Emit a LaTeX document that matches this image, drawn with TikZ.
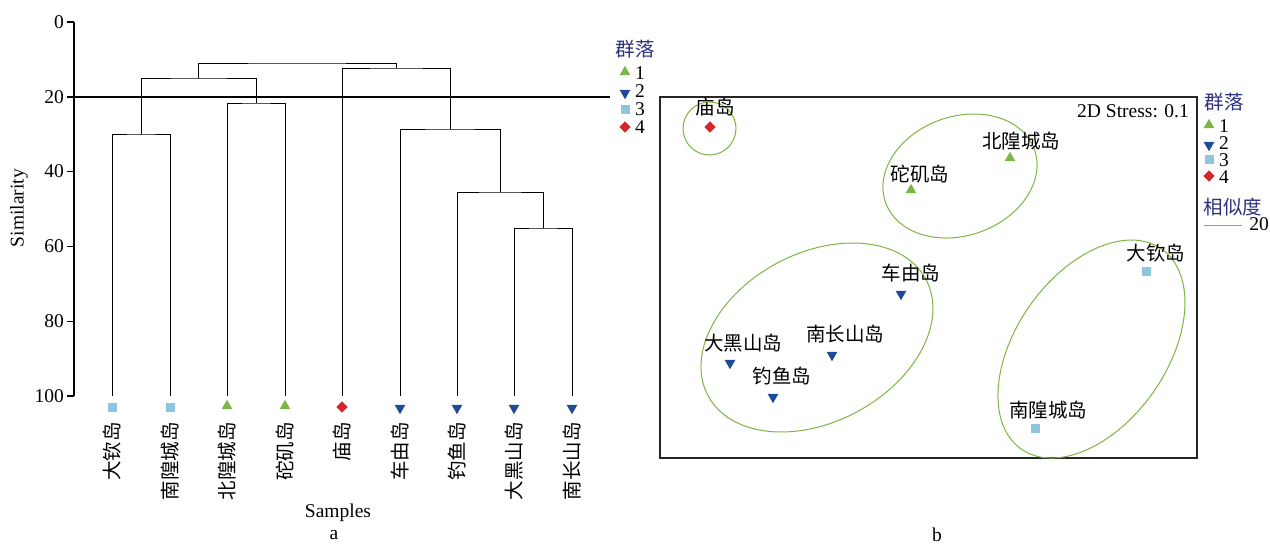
\documentclass[tikz,border=0pt]{standalone}
\usepackage{fontspec}
\setmainfont{Liberation Serif}
\newfontfamily\cjk{Noto Sans CJK SC}
\usetikzlibrary{shapes.geometric}
\definecolor{mgreen}{RGB}{122,182,72}
\definecolor{mblue}{RGB}{30,75,150}
\definecolor{mlblue}{RGB}{142,198,222}
\definecolor{mred}{RGB}{212,38,44}
\definecolor{navy}{RGB}{46,49,126}
\definecolor{egreen}{RGB}{125,181,68}
\begin{document}
\begin{tikzpicture}[x=1pt,y=1pt,
  txt/.style={inner sep=0pt,font=\fontsize{19.5}{22}\selectfont},
  cn/.style={inner sep=0pt,font=\fontsize{19.5}{22}\selectfont\cjk},
  leg/.style={cn,text=navy},
  tri/.style={regular polygon,regular polygon sides=3,minimum size=12.4pt,inner sep=0pt,fill=mgreen},
  tridown/.style={regular polygon,regular polygon sides=3,shape border rotate=180,minimum size=12.4pt,inner sep=0pt,fill=mblue},
  sq/.style={rectangle,minimum size=9pt,inner sep=0pt,fill=mlblue},
  dia/.style={diamond,minimum size=11.5pt,inner sep=0pt,fill=mred},
  dline/.style={line width=1pt,black},
  axisline/.style={line width=1.4pt,black},
  clus/.style={line width=1pt,egreen}]
\useasboundingbox (0,0) rectangle (1270,-544);

% ---------- Panel a: dendrogram ----------
\coordinate (ax0) at (74,-22);
\coordinate (ax100) at (74,-396);
\draw[axisline] (ax0) -- (ax100);
\foreach \v in {0,20,40,60,80,100}{
  \pgfmathsetmacro{\yy}{-(22+3.74*\v)}
  \coordinate (tk\v) at (74,\yy);
  \coordinate (tl\v) at (67,\yy);
  \draw[axisline] (tk\v) -- (tl\v);
  \node[txt,anchor=east] (tn\v) at (64,\yy) {\v};
}
\node[txt,rotate=90] (ylab) at (19,-208) {Similarity};

% leaves
\foreach \i/\x in {1/112,2/170,3/227,4/285,5/342,6/400,7/457,8/514,9/572}{
  \coordinate (L\i) at (\x,-396);
}
% junctions
\coordinate (J12) at (141,-134);
\coordinate (J34) at (256,-103);
\coordinate (JA) at (198.5,-78);
\coordinate (J89) at (543,-228);
\coordinate (J7) at (500,-192);
\coordinate (J6) at (450,-129);
\coordinate (J5) at (396,-68);
\coordinate (JR) at (297,-63);
\draw[dline] (L1) |- (J12) -| (L2);
\draw[dline] (L3) |- (J34) -| (L4);
\draw[dline] (J12) |- (JA) -| (J34);
\draw[dline] (L8) |- (J89) -| (L9);
\draw[dline] (L7) |- (J7) -| (J89);
\draw[dline] (L6) |- (J6) -| (J7);
\draw[dline] (L5) |- (J5) -| (J6);
\draw[dline] (JA) |- (JR) -| (J5);

% threshold line
\coordinate (th0) at (74,-97);
\coordinate (th1) at (610,-97);
\draw[line width=2pt] (th0) -- (th1);

% leaf markers
\node[sq] (m1) at (112,-407) {};
\node[sq] (m2) at (170,-407) {};
\node[tri] (m3) at (227,-406) {};
\node[tri] (m4) at (285,-406) {};
\node[dia] (m5) at (342,-407) {};
\node[tridown] (m6) at (400,-408) {};
\node[tridown] (m7) at (457,-408) {};
\node[tridown] (m8) at (514,-408) {};
\node[tridown] (m9) at (572,-408) {};

% leaf labels
\foreach \i/\x/\t in {1/112/大钦岛,2/170/南隍城岛,3/227/北隍城岛,4/285/砣矶岛,5/342/庙岛,6/400/车由岛,7/457/钓鱼岛,8/514/大黑山岛,9/572/南长山岛}{
  \node[cn,rotate=90,anchor=east] (s\i) at (\x,-422) {\t};
}
\node[txt] (xlab) at (338,-513) {Samples};
\node[txt] (pa) at (334,-535) {a};

% left legend
\node[leg] (lg1) at (635,-49) {群落};
\node[tri] (lt1) at (625,-72) {};
\node[tridown] (lt2) at (625,-93) {};
\node[sq] (lt3) at (625,-109) {};
\node[dia] (lt4) at (625,-127) {};
\node[txt] (ln1) at (640,-73) {1};
\node[txt] (ln2) at (640,-91) {2};
\node[txt] (ln3) at (640,-109) {3};
\node[txt] (ln4) at (640,-127) {4};

% ---------- Panel b: MDS ----------
\coordinate (b0) at (660,-97);
\coordinate (b1) at (1197,-458);
\draw[line width=1.2pt,black!85] (b0) rectangle (b1);
\node[txt,anchor=east] (stress) at (1189,-111) {2D Stress: 0.1};

% clusters
\coordinate (c4) at (709.5,-128.5);
\draw[clus] (c4) circle [radius=26.5];
\coordinate (c1) at (960,-176);
\draw[clus,rotate around={19.6:(c1)}] (c1) ellipse [x radius=79,y radius=59.5];
\coordinate (c2) at (817,-337.5);
\draw[clus,rotate around={28.1:(c2)}] (c2) ellipse [x radius=123.5,y radius=84.4];
\coordinate (c3) at (1091.5,-349);
\draw[clus,rotate around={54.9:(c3)}] (c3) ellipse [x radius=122.2,y radius=75.4];

% points
\node[dia] (p5) at (710,-127) {};
\node[tri] (p3) at (1010,-158) {};
\node[tri] (p4) at (911,-190) {};
\node[tridown] (p6) at (901,-294) {};
\node[tridown] (p8) at (730,-363) {};
\node[tridown] (p9) at (832,-355) {};
\node[tridown] (p7) at (773,-397) {};
\node[sq] (p1) at (1146,-271) {};
\node[sq] (p2) at (1035,-428) {};

% point labels
\node[cn] (q5) at (715,-107) {庙岛};
\node[cn] (q3) at (1021,-141) {北隍城岛};
\node[cn] (q4) at (920,-174) {砣矶岛};
\node[cn] (q6) at (911,-273) {车由岛};
\node[cn] (q8) at (743,-343) {大黑山岛};
\node[cn] (q9) at (845,-334) {南长山岛};
\node[cn] (q7) at (782,-376) {钓鱼岛};
\node[cn] (q1) at (1156,-253) {大钦岛};
\node[cn] (q2) at (1048,-410) {南隍城岛};

% right legend
\node[leg] (rg1) at (1224,-102) {群落};
\node[tri] (rt1) at (1209,-125) {};
\node[tridown] (rt2) at (1209,-145) {};
\node[sq] (rt3) at (1209,-159) {};
\node[dia] (rt4) at (1209,-176) {};
\node[txt] (rn1) at (1224,-126) {1};
\node[txt] (rn2) at (1224,-143) {2};
\node[txt] (rn3) at (1224,-160) {3};
\node[txt] (rn4) at (1224,-177) {4};
\node[leg] (rg2) at (1233,-207) {相似度};
\coordinate (rl0) at (1204,-225);
\coordinate (rl1) at (1242,-225);
\draw[clus] (rl0) -- (rl1);
\node[txt] (rn20) at (1259,-224) {20};

\node[txt] (pb) at (937,-535) {b};
\end{tikzpicture}
\end{document}
